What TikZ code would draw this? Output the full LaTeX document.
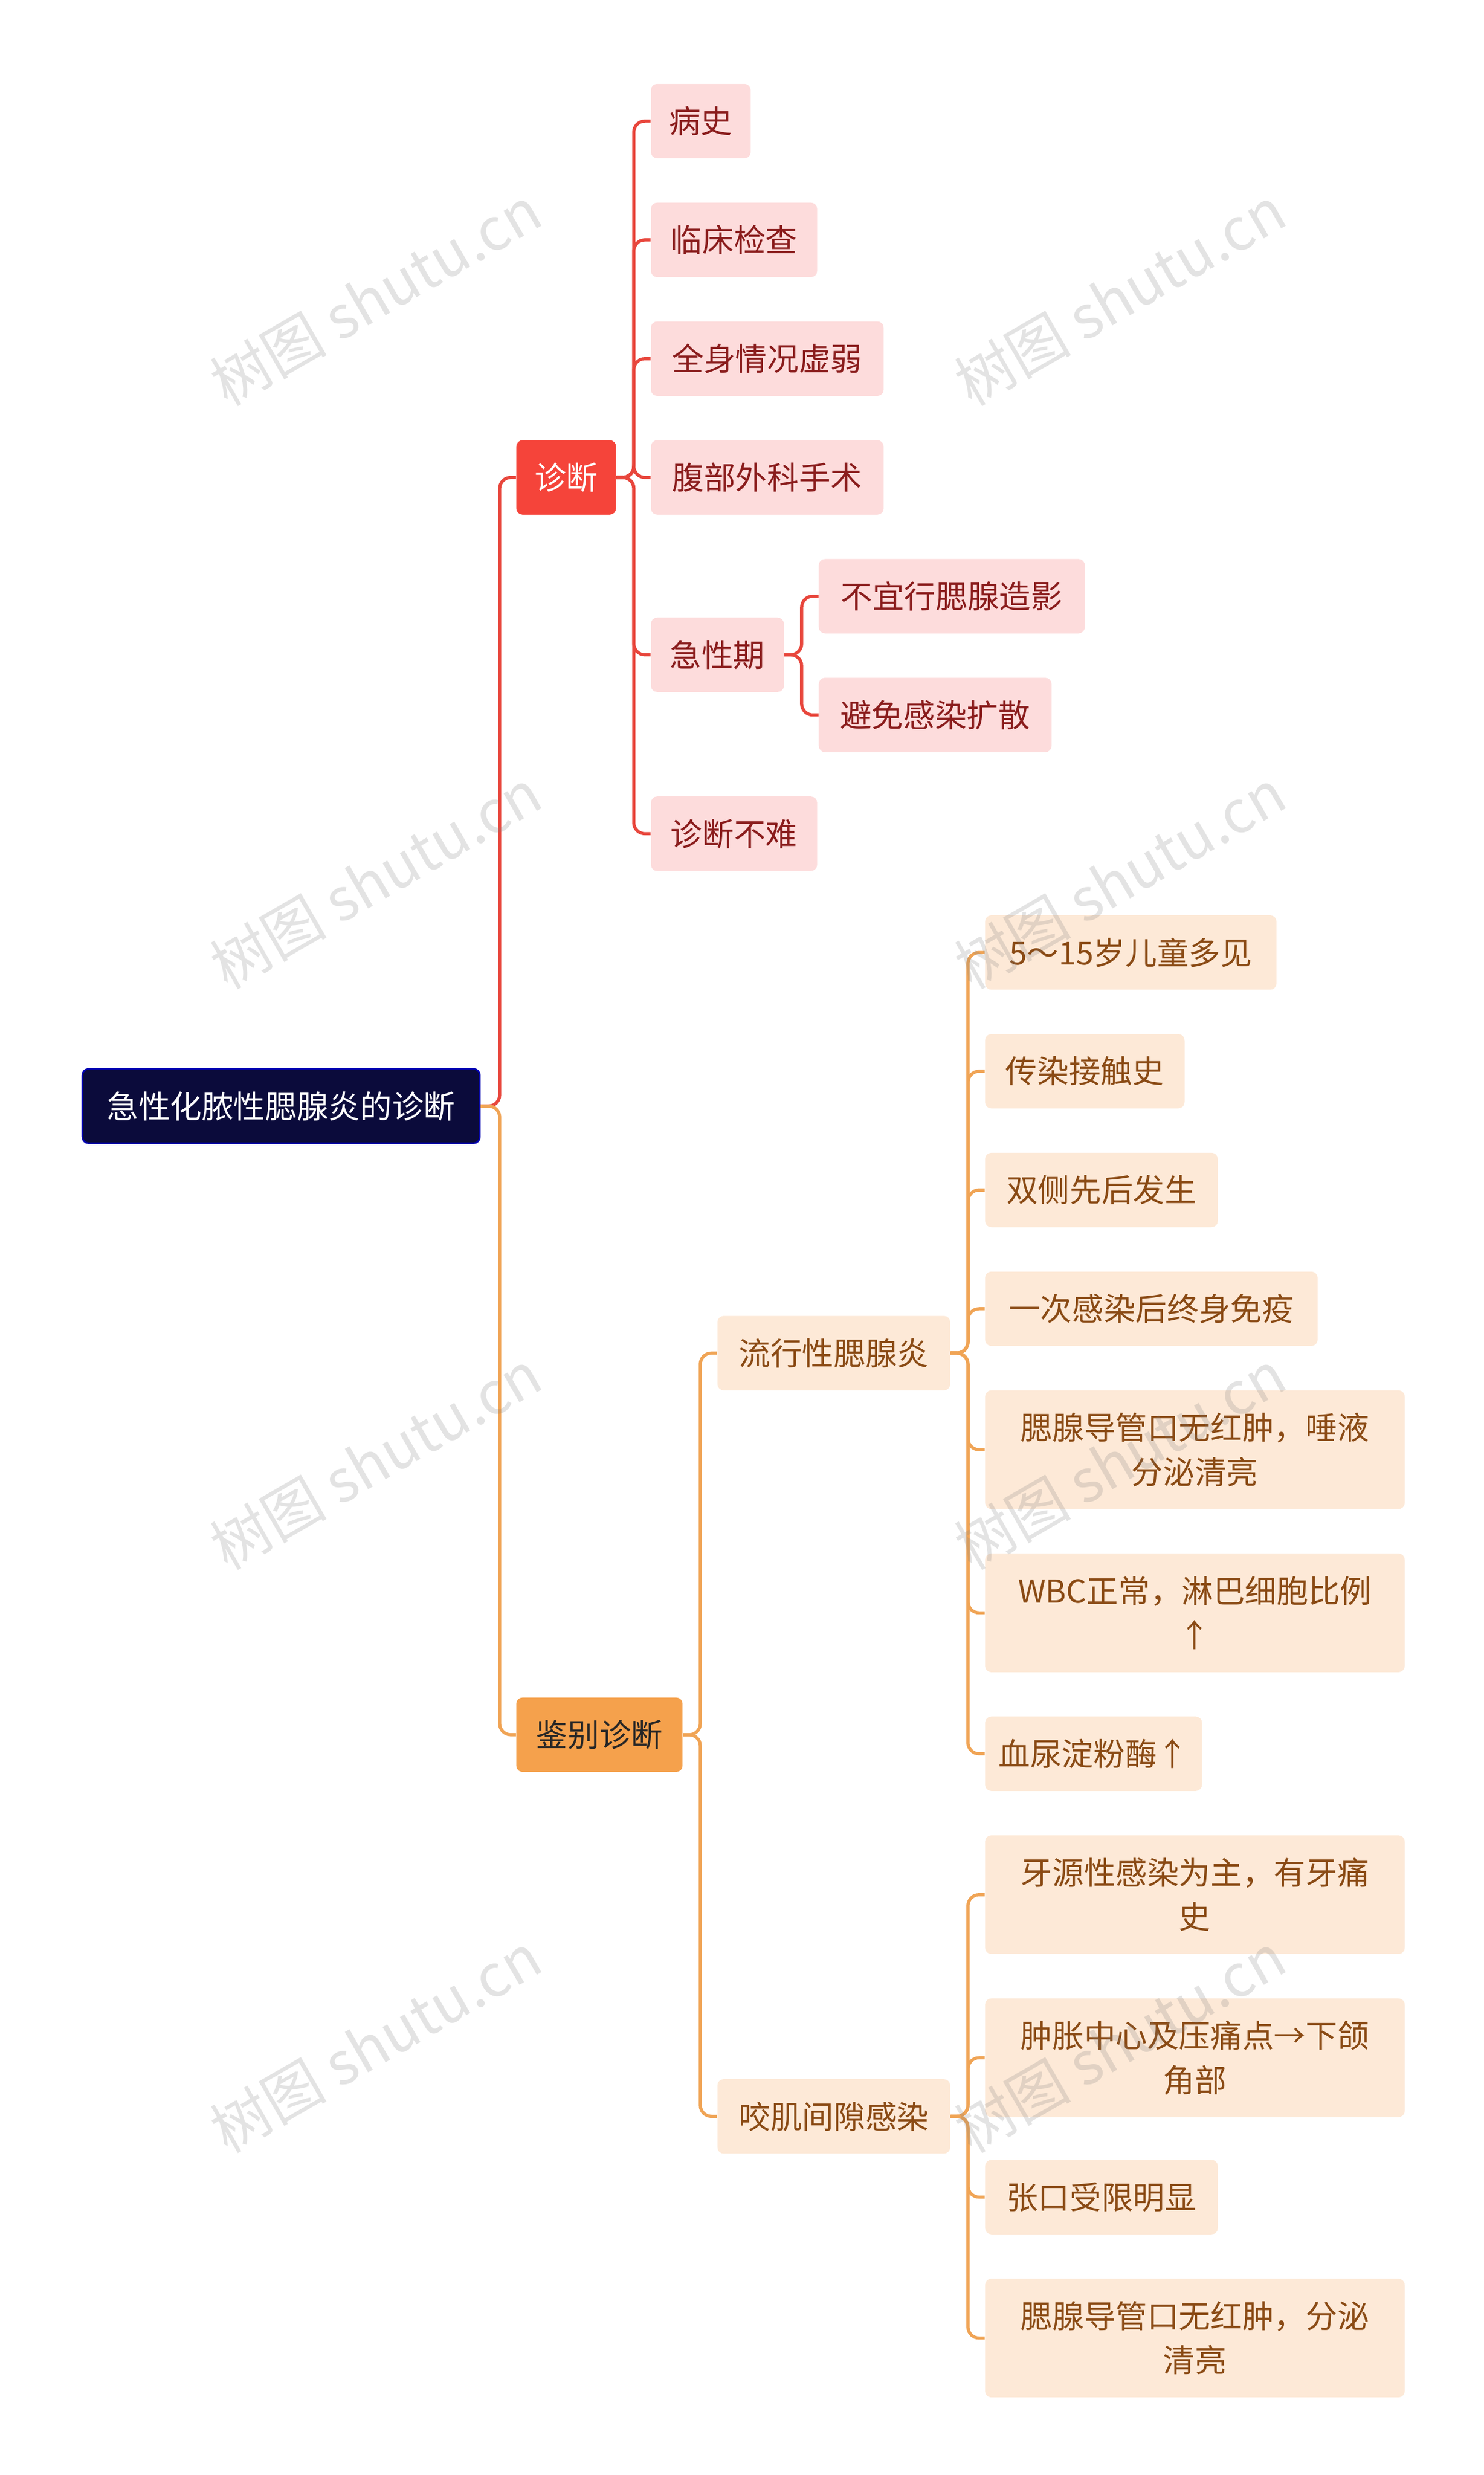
\documentclass[tikz,border=0pt]{standalone}
\usepackage{fontspec}
\setmainfont{Noto Sans CJK SC}
\usetikzlibrary{calc}
\definecolor{rootc}{HTML}{0B0B3B}
\definecolor{redc}{HTML}{F5443A}
\definecolor{redl}{HTML}{FDDCDC}
\definecolor{redt}{HTML}{8A1C1C}
\definecolor{redline}{HTML}{E8463C}
\definecolor{orc}{HTML}{F5A14C}
\definecolor{orl}{HTML}{FDE9D7}
\definecolor{ort}{HTML}{8A4A14}
\definecolor{orline}{HTML}{F0A455}
\tikzset{
 base/.style={rounded corners=4pt,inner sep=0pt,font=\fontsize{20}{28}\selectfont,align=center},
 rootbox/.style={base,fill=rootc,draw=blue!70!black,line width=1pt,text=white},
 redmain/.style={base,fill=redc,text=white},
 ormain/.style={base,fill=orc,text=black!85},
 redleaf/.style={base,fill=redl,text=redt},
 orleaf/.style={base,fill=orl,text=ort},
 rl/.style={draw=redline,line width=2pt,rounded corners=7pt},
 ol/.style={draw=orline,line width=2pt,rounded corners=7pt},
 wm/.style={text=gray,opacity=0.22,font=\fontsize{37}{37}\selectfont,rotate=30}
}
\newcommand{\bx}[6]{\node[#1,minimum width=#4 pt,minimum height=#5 pt] (#2) at (#3) {#6};}
\begin{document}
\begin{tikzpicture}[x=1pt,y=-1pt]
\useasboundingbox (0,0) rectangle (937,1563);
\bx{rootbox}{root}{177.5,698.5}{251}{47}{急性化脓性腮腺炎的诊断}
\bx{redmain}{zd}{357.5,301.5}{63}{47}{诊断}
\bx{ormain}{jb}{378.5,1095.5}{105}{47}{鉴别诊断}
\bx{redleaf}{r1}{442.5,76.5}{63}{47}{病史}
\bx{redleaf}{r2}{463.5,151.5}{105}{47}{临床检查}
\bx{redleaf}{r3}{484.5,226.5}{147}{47}{全身情况虚弱}
\bx{redleaf}{r4}{484.5,301.5}{147}{47}{腹部外科手术}
\bx{redleaf}{r5}{453,413.5}{84}{47}{急性期}
\bx{redleaf}{r6}{463.5,526.5}{105}{47}{诊断不难}
\bx{redleaf}{r51}{601,376.5}{168}{47}{不宜行腮腺造影}
\bx{redleaf}{r52}{590.5,451.5}{147}{47}{避免感染扩散}
\bx{orleaf}{o1}{526.5,854.5}{147}{47}{流行性腮腺炎}
\bx{orleaf}{o2}{526.5,1336.5}{147}{47}{咬肌间隙感染}
\bx{orleaf}{a1}{714,601.5}{184}{47}{5～15岁儿童多见}
\bx{orleaf}{a2}{685,676.5}{126}{47}{传染接触史}
\bx{orleaf}{a3}{695.5,751.5}{147}{47}{双侧先后发生}
\bx{orleaf}{a4}{727,826.5}{210}{47}{一次感染后终身免疫}
\bx{orleaf}{a5}{754.5,915.5}{265}{75}{腮腺导管口无红肿，唾液\\分泌清亮}
\bx{orleaf}{a6}{754.5,1018.5}{265}{75}{WBC正常，淋巴细胞比例\\↑}
\bx{orleaf}{a7}{690.5,1107.5}{137}{47}{血尿淀粉酶↑}
\bx{orleaf}{b1}{754.5,1196.5}{265}{75}{牙源性感染为主，有牙痛\\史}
\bx{orleaf}{b2}{754.5,1299.5}{265}{75}{肿胀中心及压痛点→下颌\\角部}
\bx{orleaf}{b3}{695.5,1387.5}{147}{47}{张口受限明显}
\bx{orleaf}{b4}{754.5,1476.5}{265}{75}{腮腺导管口无红肿，分泌\\清亮}
% connectors
\draw[rl] (root.east) -- ++(12,0) |- (zd.west);
\draw[ol] (root.east) -- ++(12,0) |- (jb.west);
\foreach \c in {r1,r2,r3,r4,r5,r6} \draw[rl] (zd.east) -- ++(11,0) |- (\c.west);
\foreach \c in {r51,r52} \draw[rl] (r5.east) -- ++(11,0) |- (\c.west);
\foreach \c in {o1,o2} \draw[ol] (jb.east) -- ++(11,0) |- (\c.west);
\foreach \c in {a1,a2,a3,a4,a5,a6,a7} \draw[ol] (o1.east) -- ++(11,0) |- (\c.west);
\foreach \c in {b1,b2,b3,b4} \draw[ol] (o2.east) -- ++(11,0) |- (\c.west);
% watermarks
\foreach \x in {237,707} \foreach \y in {187,555,922,1290}
 \node[wm] (w\x\y) at (\x,\y) {树图 shutu.cn};
\end{tikzpicture}
\end{document}
